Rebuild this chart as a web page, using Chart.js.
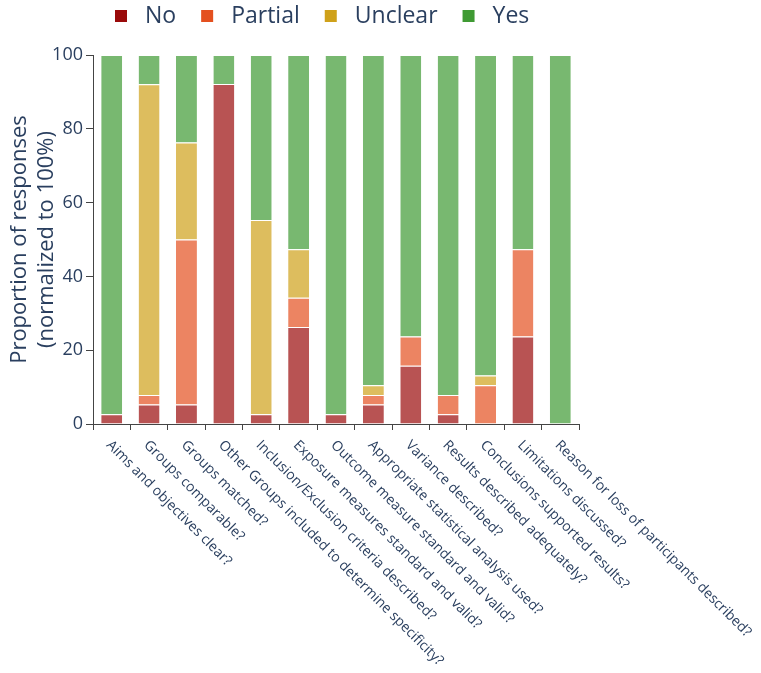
<!DOCTYPE html>
<html>
<head>
<meta charset="utf-8">
<script src="https://cdn.jsdelivr.net/npm/chart.js@4.4.1/dist/chart.umd.min.js"></script>
<style>
  html, body { margin: 0; padding: 0; background: #fff; }
  #wrap { width: 761px; height: 673px; position: relative; }
</style>
</head>
<body>
<div id="wrap"><canvas id="chart"></canvas></div>
<script>
// Questions on the x axis
const categories = [
  "Aims and objectives clear?",
  "Groups comparable?",
  "Groups matched?",
  "Other Groups included to determine specificity?",
  "Inclusion/Exclusion criteria described?",
  "Exposure measures standard and valid?",
  "Outcome measure standard and valid?",
  "Appropriate statistical analysis used?",
  "Variance described?",
  "Results described adequately?",
  "Conclusions supported results?",
  "Limitations discussed?",
  "Reason for loss of participants described?"
];

// Percent of responses per answer (stacked to 100)
const noValues      = [2.63, 5.26, 5.26, 92.11, 2.63, 26.32, 2.63, 5.26, 15.79, 2.63, 0, 23.68, 0];
const partialValues = [0, 2.63, 44.74, 0, 0, 7.89, 0, 2.63, 7.89, 5.26, 10.53, 23.68, 0];
const unclearValues = [0, 84.21, 26.32, 0, 52.63, 13.16, 0, 2.63, 0, 0, 2.63, 0, 0];
const yesValues     = [97.37, 7.89, 23.68, 7.89, 44.74, 52.63, 97.37, 89.47, 76.32, 92.11, 86.84, 52.63, 100];

const seriesNames = ["No", "Partial", "Unclear", "Yes"];
const yTicks = [0, 20, 40, 60, 80, 100];

const textColor = "#2a3f5f";
const fontFamily = "'Open Sans', 'Noto Sans', sans-serif";
const baseColors = ["#9a0a0a", "#e4501f", "#cfa11a", "#3f9a33"];

function withAlpha(hex, a) {
  const n = parseInt(hex.slice(1), 16);
  return `rgba(${(n >> 16) & 255}, ${(n >> 8) & 255}, ${n & 255}, ${a})`;
}

// Legend drawn at the top, left aligned near the plot
const topLegend = {
  id: "topLegend",
  afterDraw(chart) {
    const ctx = chart.ctx;
    ctx.save();
    ctx.font = "23px " + fontFamily;
    ctx.textBaseline = "middle";
    let x = 115;
    const y = 16;
    seriesNames.forEach((name, i) => {
      ctx.fillStyle = baseColors[i];
      ctx.fillRect(x, y - 6, 12, 12);
      x += 12 + 18;
      ctx.fillStyle = textColor;
      ctx.fillText(name, x, y);
      x += ctx.measureText(name).width + 25;
    });
    ctx.restore();
  }
};

// Tilted category labels hanging down-right from each tick
const tiltedLabels = {
  id: "tiltedLabels",
  afterDraw(chart) {
    const ctx = chart.ctx;
    const xs = chart.scales.x;
    const top = chart.chartArea.bottom + 19;
    ctx.save();
    ctx.font = "14px " + fontFamily;
    ctx.fillStyle = textColor;
    ctx.textAlign = "left";
    ctx.textBaseline = "middle";
    categories.forEach((label, i) => {
      const px = xs.getPixelForValue(i);
      ctx.save();
      ctx.translate(px - 3, top);
      ctx.rotate(45 * Math.PI / 180);
      ctx.fillText(label, 0, 0);
      ctx.restore();
    });
    ctx.restore();
  }
};

const valueSets = [noValues, partialValues, unclearValues, yesValues];

new Chart(document.getElementById("chart"), {
  type: "bar",
  data: {
    labels: categories,
    datasets: seriesNames.map((name, i) => ({
      label: name,
      data: valueSets[i],
      backgroundColor: withAlpha(baseColors[i], 0.7),
      borderColor: "#ffffff",
      borderWidth: { top: 1, left: 0, right: 0, bottom: 0 },
      borderSkipped: false,
      barPercentage: 0.56,
      categoryPercentage: 1.0
    }))
  },
  options: {
    responsive: true,
    maintainAspectRatio: false,
    animation: false,
    layout: { padding: { top: 55, left: 0, right: 182, bottom: 0 } },
    plugins: {
      legend: { display: false },
      tooltip: { enabled: false }
    },
    scales: {
      x: {
        stacked: true,
        grid: { drawOnChartArea: false, drawTicks: true, tickLength: 6, color: "#444" },
        border: { display: true, color: "#444", width: 1 },
        ticks: { display: false },
        afterFit(s) { s.height = 249; }
      },
      y: {
        stacked: true,
        min: 0,
        max: 100,
        afterBuildTicks(s) { s.ticks = yTicks.map(v => ({ value: v })); },
        grid: { drawOnChartArea: false, drawTicks: true, tickLength: 7, color: "#444" },
        border: { display: true, color: "#444", width: 1 },
        ticks: {
          color: textColor,
          font: { family: fontFamily, size: 18 },
          padding: 3
        },
        title: {
          display: true,
          text: ["Proportion of responses", "(normalized to 100%)"],
          color: textColor,
          font: { family: fontFamily, size: 22, lineHeight: 1.2 },
          padding: { top: 7, bottom: 0 }
        },
        afterFit(s) { s.width = 93; }
      }
    }
  },
  plugins: [topLegend, tiltedLabels]
});
</script>
</body>
</html>
